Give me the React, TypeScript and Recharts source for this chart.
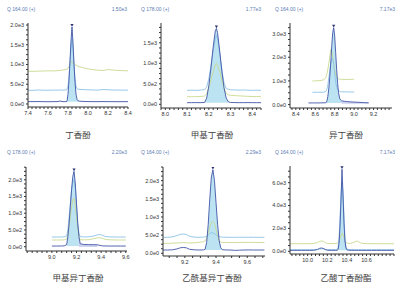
import React from 'react';
import { ComposedChart, Line, Area, XAxis, YAxis } from 'recharts';

const DARK = '#4256a8';
const LIGHT = '#8cc3e6';
const GREEN = '#c8d98f';
const PEAK_FILL = '#b0def0';
const TAIL_FILL = '#c9cdec';
const AXIS = '#333';
const HEAD = '#5b7bb3';
const FONT = '"Liberation Sans", Arial, sans-serif';
const CJK = '"Noto Sans CJK SC", "Noto Sans", sans-serif';

// 丁香酚  Q 164
const t1 = [7.40, 7.45, 7.50, 7.55, 7.60, 7.65, 7.70, 7.72, 7.75, 7.78, 7.79, 7.80, 7.81, 7.82, 7.83, 7.84, 7.85, 7.86, 7.87, 7.88, 7.89, 7.90, 7.92, 7.95, 8.00, 8.05, 8.10, 8.15, 8.20, 8.25, 8.30, 8.35, 8.40];
const quant1 = [60, 60, 62, 60, 58, 60, 62, 75, 60, 60, 70, 250, 600, 1100, 1600, 1950, 1550, 1000, 550, 250, 120, 80, 70, 65, 62, 60, 60, 62, 60, 60, 58, 60, 60];
const qualA1 = [350, 345, 355, 350, 348, 352, 350, 355, 350, 355, 370, 450, 700, 1050, 1400, 1650, 1400, 1000, 650, 450, 390, 375, 370, 365, 360, 355, 352, 368, 360, 352, 355, 350, 352];
const qualB1 = [830, 828, 832, 835, 840, 838, 845, 850, 860, 875, 885, 900, 950, 1030, 1080, 1060, 1040, 1020, 1000, 985, 970, 955, 940, 920, 890, 870, 855, 850, 872, 860, 850, 845, 840];

// 甲基丁香酚  Q 178
const t2 = [8.10, 8.12, 8.14, 8.16, 8.18, 8.19, 8.20, 8.21, 8.22, 8.23, 8.235, 8.24, 8.25, 8.26, 8.27, 8.28, 8.29, 8.30, 8.32, 8.34, 8.36, 8.38, 8.40, 8.42, 8.44];
const quant2 = [40, 40, 42, 40, 45, 150, 450, 900, 1400, 1800, 1850, 1750, 1300, 800, 400, 150, 60, 45, 42, 40, 40, 42, 40, 40, 40];
const qualA2 = [340, 345, 340, 345, 360, 420, 620, 950, 1300, 1600, 1680, 1600, 1250, 850, 520, 390, 365, 355, 350, 345, 350, 345, 340, 345, 340];
const qualB2 = [185, 185, 188, 190, 200, 250, 400, 600, 800, 960, 1000, 950, 800, 600, 400, 270, 230, 220, 212, 205, 200, 195, 190, 190, 185];

// 异丁香酚  Q 164
const t3 = [8.53, 8.57, 8.60, 8.63, 8.66, 8.69, 8.71, 8.72, 8.73, 8.74, 8.75, 8.76, 8.77, 8.78, 8.79, 8.80, 8.81, 8.82, 8.83, 8.84, 8.85, 8.86, 8.87, 8.90, 8.93, 8.96, 9.00, 9.05, 9.10, 9.15];
const quant3 = [70, 70, 72, 70, 72, 75, 80, 150, 350, 700, 1200, 1800, 2500, 3050, 3250, 2900, 2200, 1500, 900, 500, 280, 200, 160, 140, 125, 115, 105, 95, 85, 75];
const qualA3 = [null, 520, 520, 525, 520, 525, 560, 650, 850, 1150, 1450, 1750, 1950, 1950, 1700, 1300, 950, 750, 640, 580, 555, 545, 540, 538, 535, 532, 530, null, null, null];
const qualB3 = [null, 1000, 1000, 1010, 1020, 1050, 1150, 1300, 1500, 1750, 2050, 2320, 2250, 2000, 1700, 1450, 1280, 1180, 1120, 1090, 1075, 1070, 1065, 1060, 1062, 1065, 1070, null, null, null];

// 甲基异丁香酚  Q 178
const t4 = [9.00, 9.04, 9.08, 9.10, 9.12, 9.13, 9.14, 9.15, 9.16, 9.17, 9.18, 9.19, 9.20, 9.21, 9.22, 9.23, 9.26, 9.30, 9.34, 9.37, 9.39, 9.41, 9.44, 9.48, 9.52, 9.56, 9.60];
const quant4 = [20, 20, 22, 25, 60, 300, 700, 1200, 1700, 2100, 2250, 1900, 1300, 700, 300, 90, 65, 62, 60, 58, 40, 25, 22, 20, 20, 20, 20];
const qualA4 = [290, 290, 292, 295, 320, 500, 900, 1300, 1700, 1950, 2000, 1750, 1200, 700, 400, 300, 292, 295, 320, 355, 366, 340, 300, 292, 290, 290, 290];
const qualB4 = [200, 200, 202, 205, 230, 350, 600, 900, 1200, 1400, 1450, 1250, 900, 550, 300, 210, 205, 210, 240, 262, 270, 250, 215, 205, 200, 200, 200];

// 乙酰基异丁香酚  Q 164
const t5 = [9.06, 9.09, 9.12, 9.15, 9.17, 9.19, 9.21, 9.23, 9.26, 9.29, 9.32, 9.33, 9.34, 9.35, 9.36, 9.37, 9.38, 9.39, 9.40, 9.41, 9.42, 9.43, 9.44, 9.46, 9.49, 9.52, 9.55, 9.58, 9.61, 9.64, 9.67, 9.71];
const quant5 = [90, 90, 95, 120, 150, 160, 150, 110, 95, 90, 92, 110, 300, 800, 1500, 2100, 2300, 2000, 1400, 800, 350, 150, 100, 92, 90, 80, 85, 90, 92, 90, 90, 90];
const qualA5 = [440, 440, 450, 490, 520, 530, 515, 470, 445, 440, 445, 450, 470, 500, 540, 570, 560, 540, 510, 480, 460, 450, 445, 442, 440, 440, 442, 440, 440, 442, 440, 440];
const qualB5 = [270, 272, 278, 285, 290, 292, 290, 285, 288, 300, 320, 340, 420, 560, 720, 850, 880, 820, 650, 480, 360, 310, 300, 298, 296, 295, 298, 300, 300, 298, 296, 295];

// 乙酸丁香酚酯  Q 164
const t6 = [9.82, 9.86, 9.90, 9.94, 9.98, 10.02, 10.06, 10.10, 10.12, 10.14, 10.16, 10.18, 10.20, 10.24, 10.28, 10.30, 10.31, 10.32, 10.33, 10.34, 10.35, 10.36, 10.37, 10.38, 10.39, 10.40, 10.41, 10.42, 10.45, 10.48, 10.50, 10.52, 10.55, 10.60, 10.65, 10.70, 10.75, 10.80, 10.85, 10.88];
const quant6 = [80, 80, 80, 82, 80, 80, 85, 150, 250, 290, 250, 150, 90, 82, 80, 85, 150, 700, 2200, 4500, 7170, 5000, 2500, 900, 300, 130, 100, 90, 85, 82, 80, 80, 82, 80, 80, 80, 82, 80, 80, 80];
const qualA6 = [140, 140, 142, 140, 140, 142, 145, 170, 200, 220, 200, 170, 150, 145, 145, 150, 300, 1200, 3000, 5000, 6000, 5200, 3200, 1200, 400, 200, 160, 150, 145, 142, 140, 140, 142, 140, 140, 140, 142, 140, 140, 140];
const qualB6 = [660, 660, 662, 660, 665, 668, 680, 760, 860, 900, 870, 760, 690, 670, 680, 700, 760, 900, 1150, 1400, 1600, 1450, 1200, 950, 800, 720, 690, 680, 720, 820, 900, 820, 700, 670, 665, 660, 662, 660, 660, 660];

const ions = ['Q 164.00 (+)', 'Q 178.00 (+)', 'Q 164.00 (+)', 'Q 178.00 (+)', 'Q 164.00 (+)', 'Q 164.00 (+)'];
const maxLabels = ['1.50e3', '1.77e3', '7.17e3', '2.20e3', '2.29e3', '7.17e3'];
const titles = ['丁香酚', '甲基丁香酚', '异丁香酚', '甲基异丁香酚', '乙酰基异丁香酚', '乙酸丁香酚酯'];

const xMajors = [
  [7.4, 7.6, 7.8, 8.0, 8.2, 8.4],
  [8.0, 8.1, 8.2, 8.3, 8.4],
  [8.4, 8.6, 8.8, 9.0, 9.2],
  [9.0, 9.2, 9.4, 9.6],
  [9.2, 9.4, 9.6],
  [10.0, 10.2, 10.4, 10.6],
];
const yMajors = [
  [0, 500, 1000, 1500, 2000],
  [0, 500, 1000, 1500],
  [0, 1000, 2000, 3000],
  [0, 500, 1000, 1500, 2000],
  [0, 500, 1000, 1500, 2000],
  [0, 2000, 4000, 6000],
];

type Num = number | null;
type Panel = {
  ox: number; oy: number;
  plot: [number, number, number, number];
  t: number[]; quant: Num[]; qualA: Num[]; qualB: Num[];
  xDomain: [number, number]; xStep: number;
  yDomain: [number, number]; yStep: number;
  peak: [number, number]; tail?: [number, number]; base: number;
};

const panels: Panel[] = [
  { ox: 0, oy: 0, plot: [28, 23, 128, 107], t: t1, quant: quant1, qualA: qualA1, qualB: qualB1,
    xDomain: [7.4, 8.4], xStep: 0.04, yDomain: [-76, 2051], yStep: 125, peak: [7.79, 7.9], base: 60 },
  { ox: 134, oy: 0, plot: [161, 23, 261, 108], t: t2, quant: quant2, qualA: qualA2, qualB: qualB2,
    xDomain: [7.98, 8.44], xStep: 0.02, yDomain: [-90, 1983], yStep: 125, peak: [8.18, 8.29], base: 40 },
  { ox: 268, oy: 0, plot: [290, 23, 392, 108], t: t3, quant: quant3, qualA: qualA3, qualB: qualB3,
    xDomain: [8.34, 9.39], xStep: 0.04, yDomain: [-144, 3447], yStep: 250, peak: [8.71, 8.87], tail: [8.87, 9.15], base: 70 },
  { ox: 0, oy: 143, plot: [26, 167, 127, 251], t: t4, quant: quant4, qualA: qualA4, qualB: qualB4,
    xDomain: [8.79, 9.61], xStep: 0.04, yDomain: [-128, 2381], yStep: 125, peak: [9.12, 9.22], tail: [9.22, 9.37], base: 20 },
  { ox: 134, oy: 143, plot: [163, 167, 265, 256], t: t5, quant: quant5, qualA: qualA5, qualB: qualB5,
    xDomain: [9.06, 9.714], xStep: 0.05, yDomain: [-75, 2376], yStep: 125, peak: [9.33, 9.44], base: 90 },
  { ox: 268, oy: 143, plot: [290, 166, 394, 254], t: t6, quant: quant6, qualA: qualA6, qualB: qualB6,
    xDomain: [9.82, 10.88], xStep: 0.04, yDomain: [-237, 7456], yStep: 500, peak: [10.31, 10.41], base: 80 },
];

const W = 134;
const H = 125;

function stepTicks(domain: [number, number], step: number) {
  const out: number[] = [];
  const start = Math.ceil(domain[0] / step - 1e-9);
  const end = Math.floor(domain[1] / step + 1e-9);
  for (let i = start; i <= end; i++) out.push(Math.round(i * step * 1000) / 1000 + 0);
  return out;
}

const isMajor = (majors: number[], v: number) => majors.some((m) => Math.abs(m - v) < 1e-6);
const expLabel = (v: number) => (v + 0).toExponential(1).replace('e+', 'e');

function ChromPanel({ p, idx }: { p: Panel; idx: number }) {
  const [pl, pt, pr, pb] = p.plot;
  const xM = xMajors[idx];
  const yM = yMajors[idx];
  const rows = p.t.map((t, i) => {
    const q = p.quant[i];
    const inPeak = t >= p.peak[0] - 1e-9 && t <= p.peak[1] + 1e-9;
    const inTail = p.tail ? t >= p.tail[0] - 1e-9 && t <= p.tail[1] + 1e-9 : false;
    return { t, quant: q, qualA: p.qualA[i], qualB: p.qualB[i], fill: inPeak ? q : null, tail: inTail ? q : null };
  });
  const apex = Math.max(...(p.quant.filter((v) => v != null) as number[]));
  const apexDot = (props: any) => {
    const { cx, cy, payload, index } = props;
    if (payload.quant !== apex || cx == null) return <g key={index} />;
    return <path key={index} d={`M${cx - 1.6},${cy - 3} L${cx + 1.6},${cy - 3} L${cx},${cy - 0.2} Z`} fill="#2a3070" />;
  };
  const tickStyle = { fontSize: 5.5, fill: AXIS, fontFamily: FONT };

  return (
    <div style={{ position: 'absolute', left: p.ox, top: p.oy }}>
      <ComposedChart width={W} height={H} data={rows}
        margin={{ top: pt - p.oy, right: p.ox + W - pr, bottom: 0, left: 0 }}>
        <XAxis type="number" dataKey="t" domain={p.xDomain} allowDataOverflow
          ticks={stepTicks(p.xDomain, p.xStep)} interval={0}
          tickFormatter={(v: number) => (isMajor(xM, v) ? v.toFixed(1) : '')}
          height={H - (pb - p.oy)} tickSize={2} tickMargin={2}
          axisLine={{ stroke: AXIS }} tickLine={{ stroke: AXIS }} tick={tickStyle} />
        <YAxis type="number" domain={p.yDomain} allowDataOverflow
          ticks={stepTicks([0, p.yDomain[1]], p.yStep)} interval={0}
          tickFormatter={(v: number) => (isMajor(yM, v) ? expLabel(v) : '')}
          width={pl - p.ox} tickSize={2} tickMargin={2}
          axisLine={{ stroke: AXIS }} tickLine={{ stroke: AXIS }} tick={tickStyle} />
        <Line type="linear" dataKey="qualB" stroke={GREEN} strokeWidth={0.9} dot={false} isAnimationActive={false} />
        <Line type="linear" dataKey="qualA" stroke={LIGHT} strokeWidth={0.9} dot={false} isAnimationActive={false} />
        <Area type="linear" dataKey="fill" stroke="none" fill={PEAK_FILL} fillOpacity={0.85} baseValue={p.base} isAnimationActive={false} />
        {p.tail && (
          <Area type="linear" dataKey="tail" stroke="none" fill={TAIL_FILL} fillOpacity={0.9} baseValue={p.base - 30} isAnimationActive={false} />
        )}
        <Line type="linear" dataKey="quant" stroke={DARK} strokeWidth={0.9} dot={apexDot} isAnimationActive={false} />
      </ComposedChart>
    </div>
  );
}

export default function App() {
  return (
    <div style={{ position: 'absolute', left: 0, top: 0, width: 402, height: 287, background: '#fff', overflow: 'hidden' }}>
      {panels.map((p, i) => <ChromPanel key={i} p={p} idx={i} />)}
      <svg width={402} height={287} style={{ position: 'absolute', left: 0, top: 0, pointerEvents: 'none' }}>
        {panels.map((p, i) => (
          <g key={i}>
            <text x={p.ox + 7} y={p.oy + 11} fontSize={5} fill={HEAD} fontFamily={FONT}>{ions[i]}</text>
            <text x={p.ox + 127} y={p.oy + 11} fontSize={5} fill={HEAD} fontFamily={FONT} textAnchor="end">{maxLabels[i]}</text>
            <text x={p.ox + 78} y={p.oy + 138} fontSize={8.5} fill="#444" fontFamily={CJK} textAnchor="middle">{titles[i]}</text>
          </g>
        ))}
      </svg>
    </div>
  );
}
